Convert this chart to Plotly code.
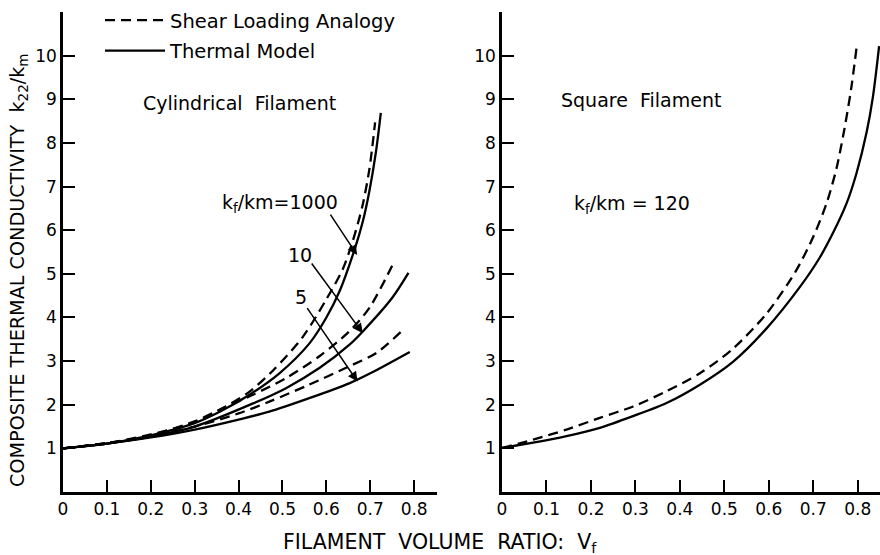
import plotly.graph_objects as go

# ---- Data ----
# Left panel: cylindrical filament
cyl_5_solid_v = [0, 0.1, 0.2, 0.3, 0.4, 0.47, 0.561, 0.652, 0.7, 0.79]
cyl_5_solid_k = [1, 1.11, 1.25, 1.43, 1.66, 1.84, 2.15, 2.49, 2.72, 3.21]
cyl_5_dash_v = [0, 0.1, 0.2, 0.3, 0.4, 0.47, 0.561, 0.652, 0.713, 0.77]
cyl_5_dash_k = [1, 1.12, 1.27, 1.5, 1.8, 2.07, 2.46, 2.88, 3.18, 3.67]
cyl_10_solid_v = [0, 0.1, 0.2, 0.3, 0.433, 0.508, 0.584, 0.652, 0.683, 0.75, 0.787]
cyl_10_solid_k = [1, 1.11, 1.27, 1.5, 2.03, 2.38, 2.84, 3.37, 3.68, 4.45, 5.02]
cyl_10_dash_v = [0, 0.1, 0.2, 0.3, 0.364, 0.433, 0.508, 0.584, 0.652, 0.698, 0.755]
cyl_10_dash_k = [1, 1.12, 1.3, 1.62, 1.92, 2.23, 2.61, 3.11, 3.68, 4.22, 5.29]
cyl_1000_solid_v = [0, 0.1, 0.2, 0.3, 0.357, 0.425, 0.493, 0.561, 0.6, 0.63, 0.664, 0.683, 0.698, 0.713, 0.724]
cyl_1000_solid_k = [1, 1.11, 1.3, 1.58, 1.84, 2.23, 2.72, 3.4, 4.0, 4.6, 5.55, 6.2, 6.9, 7.8, 8.69]
cyl_1000_dash_v = [0, 0.1, 0.2, 0.3, 0.36, 0.425, 0.478, 0.546, 0.599, 0.637, 0.66, 0.682, 0.698, 0.711]
cyl_1000_dash_k = [1, 1.12, 1.32, 1.6, 1.9, 2.3, 2.78, 3.55, 4.4, 5.1, 5.75, 6.55, 7.4, 8.47]

# Right panel: square filament, kf/km = 120
sq_solid_v = [0, 0.07, 0.145, 0.22, 0.295, 0.37, 0.445, 0.52, 0.595, 0.67, 0.715, 0.745, 0.775, 0.797, 0.82, 0.834, 0.848]
sq_solid_k = [1.01, 1.13, 1.28, 1.47, 1.74, 2.04, 2.46, 2.99, 3.75, 4.7, 5.38, 5.95, 6.62, 7.3, 8.25, 9.05, 10.22]
sq_dash_v = [0, 0.07, 0.145, 0.22, 0.295, 0.37, 0.445, 0.52, 0.595, 0.66, 0.7, 0.73, 0.752, 0.77, 0.785, 0.797]
sq_dash_k = [1.01, 1.2, 1.43, 1.7, 1.96, 2.31, 2.72, 3.29, 4.09, 5.05, 5.85, 6.62, 7.41, 8.32, 9.23, 10.16]

x_tickvals = [0, 0.1, 0.2, 0.3, 0.4, 0.5, 0.6, 0.7, 0.8]
x_ticktext = ["0", "0.1", "0.2", "0.3", "0.4", "0.5", "0.6", "0.7", "0.8"]
y_tickvals = [1, 2, 3, 4, 5, 6, 7, 8, 9, 10]

FONT = "DejaVu Sans"
DASH = "10px,6px"
LW = 2.3

fig = go.Figure()

def add(v, k, dashed, xa, ya, name=None, show=False, group=None):
    fig.add_trace(go.Scatter(
        x=v, y=k, mode="lines", xaxis=xa, yaxis=ya,
        line=dict(color="black", width=LW, dash=DASH if dashed else "solid", shape="spline", smoothing=0.8),
        name=name, showlegend=show, legendgroup=group, hoverinfo="skip", cliponaxis=False))

add(cyl_1000_dash_v, cyl_1000_dash_k, True, "x", "y", "Shear Loading Analogy", True, "a")
add(cyl_1000_solid_v, cyl_1000_solid_k, False, "x", "y", "Thermal Model", True, "b")
add(cyl_10_dash_v, cyl_10_dash_k, True, "x", "y")
add(cyl_10_solid_v, cyl_10_solid_k, False, "x", "y")
add(cyl_5_dash_v, cyl_5_dash_k, True, "x", "y")
add(cyl_5_solid_v, cyl_5_solid_k, False, "x", "y")
add(sq_dash_v, sq_dash_k, True, "x2", "y2")
add(sq_solid_v, sq_solid_k, False, "x2", "y2")

W, H = 880, 555
ml, mr, mt, mb = 63, 0, 0, 63
pw = W - ml - mr
ph = H - mt - mb
top_dom = (ph - 12) / ph
left_end = (437 - ml) / pw
right_start = (502 - ml) / pw

axis_common = dict(showline=True, linecolor="black", linewidth=2.5, ticks="inside",
                   ticklen=12, tickwidth=2, tickcolor="black", showgrid=False, zeroline=False,
                   automargin=False,
                   tickfont=dict(family=FONT, size=17, color="black"))

fig.update_layout(
    width=W, height=H, margin=dict(l=ml, r=mr, t=mt, b=mb, autoexpand=False),
    paper_bgcolor="white", plot_bgcolor="white",
    font=dict(family=FONT, color="black"),
    xaxis=dict(domain=[0, left_end], range=[0, 0.852], tickvals=x_tickvals, ticktext=x_ticktext, **axis_common),
    yaxis=dict(domain=[0, top_dom], range=[0, 11], tickvals=y_tickvals, **axis_common),
    xaxis2=dict(domain=[right_start, 1], range=[0, 0.85], tickvals=x_tickvals, ticktext=x_ticktext, anchor="y2", **axis_common),
    yaxis2=dict(domain=[0, top_dom], range=[0, 11], tickvals=y_tickvals, anchor="x2", **axis_common),
    legend=dict(x=(100 - ml) / pw, y=1 - 1 / ph, xanchor="left", yanchor="top",
                font=dict(family=FONT, size=19.5, color="black"), itemwidth=60,
                bgcolor="rgba(0,0,0,0)", tracegroupgap=2, traceorder="grouped"),
    showlegend=True,
)

ann_font = dict(family=FONT, size=19, color="black")
annotations = [
    dict(text="Cylindrical  Filament", x=0.401, y=8.91, xref="x", yref="y", showarrow=False, font=ann_font),
    dict(text="Square  Filament", x=0.313, y=8.98, xref="x2", yref="y2", showarrow=False, font=ann_font),
    dict(text="k<sub>f</sub>/km=1000", x=0.495, y=6.62, xref="x", yref="y", showarrow=False, font=ann_font),
    dict(text="k<sub>f</sub>/km = 120", x=0.293, y=6.58, xref="x2", yref="y2", showarrow=False, font=ann_font),
    dict(text="10", x=0.541, y=5.43, xref="x", yref="y", showarrow=False, font=ann_font),
    dict(text="5", x=0.543, y=4.47, xref="x", yref="y", showarrow=False, font=ann_font),
    # arrows
    dict(text="", x=0.670, y=5.43, ax=0.607, ay=6.39, xref="x", yref="y", axref="x", ayref="y",
         showarrow=True, arrowhead=2, arrowsize=1.3, arrowwidth=1.5, arrowcolor="black"),
    dict(text="", x=0.683, y=3.64, ax=0.564, ay=5.27, xref="x", yref="y", axref="x", ayref="y",
         showarrow=True, arrowhead=2, arrowsize=1.3, arrowwidth=1.5, arrowcolor="black"),
    dict(text="", x=0.671, y=2.53, ax=0.554, ay=4.25, xref="x", yref="y", axref="x", ayref="y",
         showarrow=True, arrowhead=2, arrowsize=1.3, arrowwidth=1.5, arrowcolor="black"),
    # axis titles
    dict(text="COMPOSITE THERMAL CONDUCTIVITY  k<sub>22</sub>/k<sub>m</sub>", textangle=-90,
         x=(18 - ml) / pw, y=(H - mb - 271) / ph, xref="paper", yref="paper", showarrow=False,
         xanchor="center", yanchor="middle", font=dict(family=FONT, size=19.2, color="black")),
    dict(text="FILAMENT  VOLUME  RATIO:  V<sub>f</sub>", x=(440 - ml) / pw, y=(H - mb - 543) / ph,
         xref="paper", yref="paper", showarrow=False, xanchor="center", yanchor="middle",
         font=dict(family=FONT, size=20.5, color="black")),
]
fig.update_layout(annotations=annotations)

fig.write_html("out.html", config={"displayModeBar": False},
               post_script="document.body.style.margin='0';document.body.style.overflow='hidden';")
